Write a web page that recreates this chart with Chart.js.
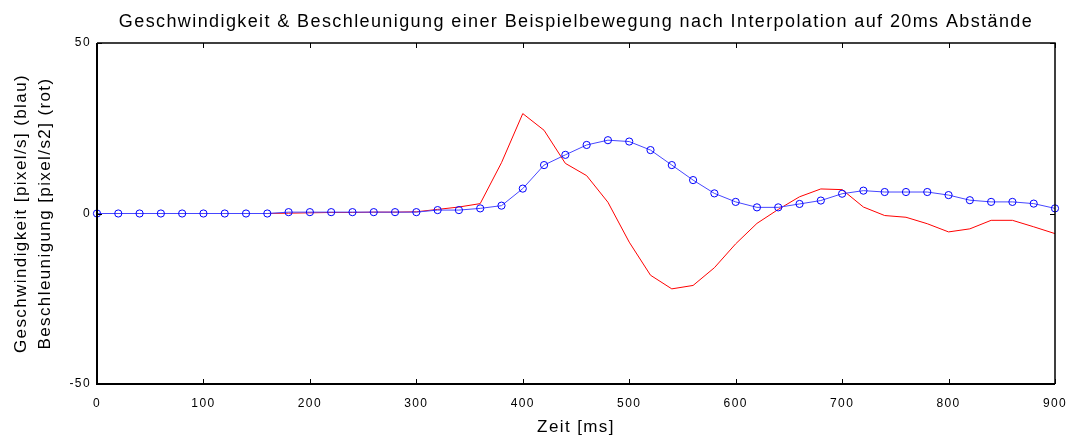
<!DOCTYPE html>
<html>
<head>
<meta charset="utf-8">
<script src="https://cdn.jsdelivr.net/npm/chart.js@4/dist/chart.umd.min.js"></script>
<style>
  html, body { margin: 0; padding: 0; background: #fff; }
  #wrap { width: 1070px; height: 440px; position: relative; }
</style>
</head>
<body>
<div id="wrap"><canvas id="c"></canvas></div>
<script>
const FONT = "'Liberation Sans', Arial, sans-serif";

// Zeitachse [ms], 20ms Raster
const zeit = [0, 20, 40, 60, 80, 100, 120, 140, 160, 180, 200, 220, 240, 260, 280, 300,
  320, 340, 360, 380, 400, 420, 440, 460, 480, 500, 520, 540, 560, 580, 600, 620, 640,
  660, 680, 700, 720, 740, 760, 780, 800, 820, 840, 860, 880, 900];

// Geschwindigkeit [pixel/s] (blau)
const geschw = [0, 0, 0, 0, 0, 0, 0, 0, 0, 0.4, 0.4, 0.4, 0.4, 0.4, 0.4, 0.4,
  1.0, 1.0, 1.5, 2.3, 7.3, 14.2, 17.2, 20.1, 21.5, 21.1, 18.6, 14.2, 9.8, 5.9, 3.4, 1.8, 1.8,
  2.8, 3.8, 5.8, 6.7, 6.3, 6.3, 6.3, 5.4, 3.9, 3.4, 3.4, 2.9, 1.5];

// Beschleunigung [pixel/s2] (rot)
const beschl = [0, 0, 0, 0, 0, 0, 0, 0, 0, 0.1, 0.2, 0.3, 0.3, 0.4, 0.4, 0.5,
  1.2, 1.9, 2.9, 14.9, 29.3, 24.4, 14.7, 11.1, 3.3, -8.4, -18.1, -22.1, -21.1, -15.9, -8.9, -2.9, 1.2,
  4.9, 7.2, 7.0, 1.9, -0.6, -1.1, -3.0, -5.4, -4.5, -2.0, -2.0, -3.9, -5.9];

const xTicks = [0, 100, 200, 300, 400, 500, 600, 700, 800, 900];
const yTicks = [-50, 0, 50];

const TITLE = 'Geschwindigkeit & Beschleunigung einer Beispielbewegung nach Interpolation auf 20ms Abstände';

const toXY = (ys) => zeit.map((t, i) => ({ x: t, y: ys[i] }));

// MATLAB-Schrift wirkt breiter -> etwas Sperrung
const spacingPlugin = {
  id: 'spacing',
  beforeDraw(chart) { chart.ctx.letterSpacing = '1.4px'; },
};

// MATLAB-artige Box mit kurzen Ticks nach innen
const boxPlugin = {
  id: 'box',
  afterDatasetsDraw(chart) {
    const { ctx, chartArea: a, scales: { x, y } } = chart;
    ctx.save();
    ctx.strokeStyle = '#000';
    ctx.lineWidth = 1.5;
    ctx.beginPath();
    ctx.moveTo(a.left, a.top); ctx.lineTo(a.right, a.top); ctx.lineTo(a.right, a.bottom);
    ctx.stroke();
    ctx.lineWidth = 2;
    ctx.beginPath();
    ctx.moveTo(a.left, a.top); ctx.lineTo(a.left, a.bottom); ctx.lineTo(a.right, a.bottom);
    ctx.stroke();
    ctx.lineWidth = 1;
    const len = 5;
    ctx.beginPath();
    for (const v of xTicks) {
      const px = Math.round(x.getPixelForValue(v)) + 0.5;
      ctx.moveTo(px, a.bottom); ctx.lineTo(px, a.bottom - len);
      ctx.moveTo(px, a.top); ctx.lineTo(px, a.top + len);
    }
    for (const v of yTicks) {
      const py = Math.round(y.getPixelForValue(v)) + 0.5;
      ctx.moveTo(a.left, py); ctx.lineTo(a.left + len, py);
      ctx.moveTo(a.right, py); ctx.lineTo(a.right - len, py);
    }
    ctx.stroke();
    ctx.restore();
  },
};

new Chart(document.getElementById('c'), {
  type: 'line',
  data: {
    datasets: [
      {
        label: 'Geschwindigkeit', data: toXY(geschw), borderColor: '#4646ff', borderWidth: 1,
        pointRadius: 3.6, pointBorderColor: '#0000ff', pointBackgroundColor: 'rgba(0,0,0,0)',
        pointBorderWidth: 1, tension: 0, order: 0, clip: 8,
      },
      {
        label: 'Beschleunigung', data: toXY(beschl), borderColor: '#ff0000', borderWidth: 1,
        pointRadius: 0, tension: 0, order: 1,
      },
    ],
  },
  options: {
    responsive: true, maintainAspectRatio: false, animation: false,
    layout: { padding: { left: 0, right: 15, top: 0, bottom: 0 } },
    plugins: {
      legend: { display: false },
      tooltip: { enabled: false },
      title: { display: false },
    },
    scales: {
      x: {
        type: 'linear', min: 0, max: 900,
        grid: { display: false, drawTicks: true, tickLength: 9 }, border: { display: false },
        afterBuildTicks: (s) => { s.ticks = xTicks.map((v) => ({ value: v })); },
        afterFit: (s) => { s.height = 56; },
        ticks: { color: '#000', font: { family: FONT, size: 12 }, padding: 3, maxRotation: 0 },
        title: {
          display: true, text: 'Zeit [ms]', color: '#000',
          font: { family: FONT, size: 17, lineHeight: 1.2 }, padding: { top: 0, bottom: 2 },
        },
      },
      // nur fuer den Titel, zentriert ueber der Achsenflaeche
      xTop: {
        type: 'linear', position: 'top', min: 0, max: 900,
        grid: { display: false, drawTicks: false }, border: { display: false },
        ticks: { display: false },
        afterFit: (s) => { s.height = 43; },
        title: {
          display: true, text: TITLE, color: '#000',
          font: { family: FONT, size: 18, lineHeight: 1.2 }, padding: { top: 11, bottom: 0 },
        },
      },
      y: {
        type: 'linear', min: -50, max: 50,
        grid: { display: false, drawTicks: true, tickLength: 4 }, border: { display: false },
        afterBuildTicks: (s) => { s.ticks = yTicks.map((v) => ({ value: v })); },
        afterFit: (s) => { s.width = 97; },
        ticks: { color: '#000', font: { family: FONT, size: 12 }, padding: 2 },
        title: {
          display: true,
          text: ['Geschwindigkeit [pixel/s] (blau)', 'Beschleunigung [pixel/s2] (rot)'],
          color: '#000', font: { family: FONT, size: 17, lineHeight: 1.42 }, padding: { top: 9, bottom: 0 },
        },
      },
    },
  },
  plugins: [spacingPlugin, boxPlugin],
});
</script>
</body>
</html>
